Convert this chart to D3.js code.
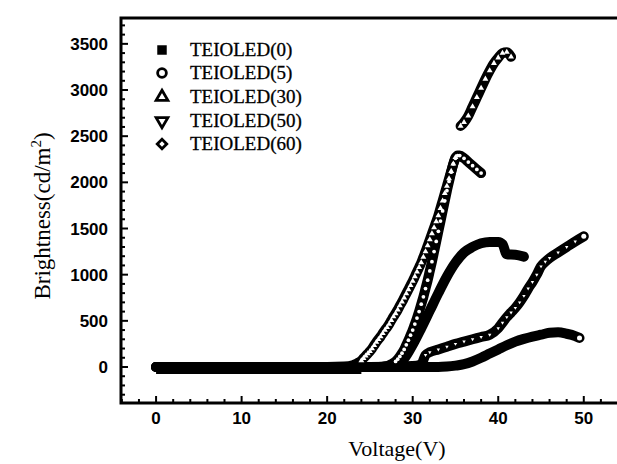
<!DOCTYPE html>
<html>
<head>
<meta charset="utf-8">
<script src="https://cdn.jsdelivr.net/npm/d3@7"></script>
<style>
  body { margin: 0; background: #fff; }
  svg { display: block; }
  .tick-label { font-family: "Liberation Sans", Arial, sans-serif; font-weight: bold; font-size: 17px; }
  .serif { font-family: "Liberation Serif", "Times New Roman", serif; }
</style>
</head>
<body>
<svg id="chart" width="617" height="464"></svg>
<script>
// series names (legend order)
var seriesNames = ['TEIOLED(0)', 'TEIOLED(5)', 'TEIOLED(30)', 'TEIOLED(50)', 'TEIOLED(60)'];

// TEIOLED(0) - filled squares
var v0 = [0, 5, 10, 15, 20, 24, 26, 27, 28, 29, 30, 31, 32, 33, 34, 35, 36, 37, 38, 39, 40, 40.5, 41, 42, 43];
var b0 = [0, 0, 0, 0, 0, 0, 0, 10, 30, 90, 240, 420, 610, 800, 980, 1130, 1240, 1300, 1340, 1355, 1355, 1330, 1220, 1215, 1195];

// TEIOLED(5) - open circles
var v5 = [0, 5, 10, 15, 20, 24, 26, 27, 27.5, 28, 28.25, 28.5, 28.75, 29, 29.25, 29.5, 29.75, 30, 30.25, 30.5, 30.75,
          31, 31.25, 31.5, 31.75, 32, 32.25, 32.5, 32.75, 33, 33.25, 33.5, 33.75, 34, 34.25, 34.5, 34.75, 35, 35.25,
          35.5, 36, 36.5, 37, 37.5, 38];
var b5 = [0, 0, 0, 0, 0, 0, 0, 10, 30, 60, 85, 115, 150, 190, 240, 290, 345, 400, 465, 530, 600,
          680, 760, 850, 940, 1040, 1140, 1250, 1360, 1470, 1580, 1690, 1800, 1910, 2010, 2110, 2200, 2260, 2290,
          2290, 2260, 2220, 2180, 2140, 2100];

// TEIOLED(30) - open up triangles (null = gap in the record)
var v30 = [0, 5, 10, 15, 20, 22, 23, 23.5, 24, 24.25, 24.5, 24.75, 25, 25.25, 25.5, 25.75, 26, 26.25, 26.5, 26.75,
           27, 27.25, 27.5, 27.75, 28, 28.25, 28.5, 28.75, 29, 29.25, 29.5, 29.75, 30, 30.25, 30.5, 30.75,
           31, 31.25, 31.5, 31.75, 32, 32.25, 32.5, 32.75, 33, 33.25, 33.5, 33.75, 34, 34.25, 34.5, 34.75, 35,
           35.3, 35.6, 36, 36.5, 37, 37.5, 38, 38.5, 39, 39.5, 40, 40.5, 41, 41.5];
var b30 = [0, 0, 0, 0, 0, 5, 20, 40, 70, 95, 120, 145, 170, 200, 235, 270, 300, 330, 365, 400,
           430, 465, 505, 545, 580, 620, 665, 705, 750, 795, 840, 885, 930, 980, 1030, 1080,
           1130, 1190, 1250, 1315, 1380, 1445, 1510, 1575, 1640, 1720, 1800, 1880, 1960, 2040, 2120, 2200, 2270,
           null, 2610, 2650, 2720, 2820, 2920, 3020, 3120, 3210, 3290, 3350, 3400, 3410, 3360];

// TEIOLED(50) - open down triangles
var v50 = [0, 5, 10, 15, 20, 25, 30, 31, 31.5, 32, 33, 34, 35, 36, 37, 38, 39, 40, 40.5, 41, 41.5, 42, 42.5, 43,
           43.5, 44, 44.5, 45, 45.5, 46, 47, 48, 49, 50];
var b50 = [0, 0, 0, 0, 0, 0, 10, 30, 130, 160, 190, 220, 250, 275, 300, 325, 350, 420, 480, 540, 590, 640, 700, 770,
           850, 920, 1000, 1090, 1140, 1180, 1240, 1300, 1360, 1415];

// TEIOLED(60) - open diamonds
var v60 = [0, 5, 10, 15, 20, 25, 30, 33, 34, 35, 36, 37, 38, 39, 40, 41, 42, 43, 44, 45, 46, 47, 48, 49, 49.5];
var b60 = [0, 0, 0, 0, 0, 0, 0, 0, 5, 15, 30, 60, 100, 145, 190, 235, 275, 305, 330, 350, 370, 375, 360, 335, 315];

// axis ticks
var xTickValues = [0, 10, 20, 30, 40, 50];
var yTickValues = [0, 500, 1000, 1500, 2000, 2500, 3000, 3500];

var svg = d3.select('#chart');
var plotLeft = 121, plotRight = 618, plotTop = 18, plotBottom = 403;

var x = d3.scaleLinear().domain([-4.1, 54]).range([plotLeft, plotRight]);
var y = d3.scaleLinear().domain([-390, 3780]).range([plotBottom, plotTop]);

function zip(vs, bs) {
    return vs.map(function(v, i) { return { v: v, b: bs[i] }; });
}

var series = [
    { name: seriesNames[0], data: zip(v0, b0), symbol: d3.symbolSquare, holes: false },
    { name: seriesNames[1], data: zip(v5, b5), symbol: d3.symbolCircle, holes: true, holeSize: 11 },
    { name: seriesNames[2], data: zip(v30, b30), symbol: d3.symbolTriangle, holes: true, holeSize: 15 },
    { name: seriesNames[3], data: zip(v50, b50), symbol: 'down', holes: true, holeSize: 5 },
    { name: seriesNames[4], data: zip(v60, b60), symbol: 'diamond', holes: false }
];

// curves: dense markers drawn as a heavy band
var line = d3.line()
    .defined(function(d) { return d.b !== null; })
    .x(function(d) { return x(d.v); })
    .y(function(d) { return y(d.b); })
    .curve(d3.curveMonotoneX);

var plot = svg.append('g');
series.forEach(function(s) {
    plot.append('path')
        .datum(s.data)
        .attr('d', line)
        .attr('fill', 'none')
        .attr('stroke', '#000')
        .attr('stroke-width', 10)
        .attr('stroke-linejoin', 'round')
        .attr('stroke-linecap', 'round');
});

// flat start of the record is a heavier band (all markers stacked)
plot.append('path')
    .datum(series[0].data.filter(function(d) { return d.v <= 24; }))
    .attr('d', line)
    .attr('fill', 'none')
    .attr('stroke', '#000')
    .attr('stroke-width', 12)
    .attr('stroke-linecap', 'butt')
    .attr('transform', 'translate(0,1)');

function symPath(sym, size) {
    if (sym === 'down') return d3.symbol(d3.symbolTriangle, size)();
    if (sym === 'diamond') return d3.symbol(d3.symbolSquare, size)();
    return d3.symbol(sym, size)();
}
function symRotate(sym) {
    if (sym === 'down') return ' rotate(180)';
    if (sym === 'diamond') return ' rotate(45)';
    return '';
}

// white holes of the open markers
series.forEach(function(s) {
    if (!s.holes) return;
    plot.selectAll(null)
        .data(s.data.filter(function(d) { return d.b !== null && d.b >= 60; }))
        .enter().append('path')
        .attr('d', symPath(s.symbol, s.holeSize))
        .attr('transform', function(d) {
            return 'translate(' + x(d.v) + ',' + y(d.b) + ')' + symRotate(s.symbol);
        })
        .attr('fill', '#fff');
});

// open end markers of the last two curves
[series[3], series[4]].forEach(function(s) {
    var d = s.data[s.data.length - 1];
    plot.append('circle')
        .attr('cx', x(d.v)).attr('cy', y(d.b))
        .attr('r', 2.5)
        .attr('fill', '#fff');
});

// frame
svg.append('path')
    .attr('d', 'M' + plotRight + ',' + plotTop + 'H' + plotLeft + 'V' + plotBottom + 'H' + plotRight)
    .attr('fill', 'none')
    .attr('stroke', '#000')
    .attr('stroke-width', 3);

// ticks (inside)
var ticks = svg.append('g').attr('stroke', '#000').attr('stroke-width', 2);
d3.range(-300, 3800, 100).forEach(function(t) {
    var len = t % 500 === 0 ? 7 : 4;
    ticks.append('line').attr('x1', plotLeft).attr('x2', plotLeft + len).attr('y1', y(t)).attr('y2', y(t));
});
d3.range(-4, 54, 2).forEach(function(t) {
    var len = t % 10 === 0 ? 7 : 4;
    ticks.append('line').attr('x1', x(t)).attr('x2', x(t)).attr('y1', plotBottom).attr('y2', plotBottom - len);
});

// tick labels
svg.selectAll('.ylab')
    .data(yTickValues)
    .enter().append('text')
    .attr('class', 'tick-label')
    .attr('x', 108)
    .attr('y', function(d) { return y(d) + 6; })
    .attr('text-anchor', 'end')
    .text(function(d) { return d; });

svg.selectAll('.xlab')
    .data(xTickValues)
    .enter().append('text')
    .attr('class', 'tick-label')
    .attr('x', function(d) { return x(d); })
    .attr('y', 424)
    .attr('text-anchor', 'middle')
    .text(function(d) { return d; });

// axis titles
svg.append('text')
    .attr('class', 'serif')
    .attr('x', 397)
    .attr('y', 456)
    .attr('text-anchor', 'middle')
    .style('font-size', '22px')
    .text('Voltage(V)');

var yt = svg.append('text')
    .attr('class', 'serif')
    .attr('transform', 'translate(50,216) rotate(-90)')
    .attr('text-anchor', 'middle')
    .style('font-size', '23px');
yt.append('tspan').text('Brightness(cd/m');
yt.append('tspan').attr('dy', -9).style('font-size', '15px').text('2');
yt.append('tspan').attr('dy', 9).text(')');

// legend
var legendY = [50, 73, 97, 121, 144];
var legendSym = [d3.symbolSquare, d3.symbolCircle, d3.symbolTriangle, 'down', 'diamond'];
var legend = svg.append('g');
seriesNames.forEach(function(name, i) {
    var filled = i === 0;
    legend.append('path')
        .attr('d', symPath(legendSym[i], filled ? 90 : (i === 4 ? 45 : 60)))
        .attr('transform', 'translate(162,' + legendY[i] + ')' + symRotate(legendSym[i]))
        .attr('fill', filled ? '#000' : '#fff')
        .attr('stroke', '#000')
        .attr('stroke-width', filled ? 0 : 2.8);
    legend.append('text')
        .attr('class', 'serif')
        .attr('x', 190)
        .attr('y', legendY[i] + 6)
        .style('font-size', '19px')
        .attr('stroke', '#000')
        .attr('stroke-width', 0.3)
        .text(name);
});
</script>
</body>
</html>
